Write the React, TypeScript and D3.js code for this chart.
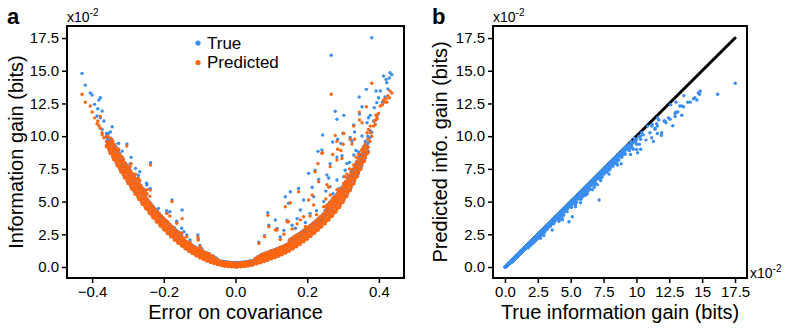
import React, { useEffect, useRef } from 'react';
import * as d3 from 'd3';

// each row: [error on covariance, true gain, predicted gain], gains in 1e-2 bits
const scattered = [
  [-0.428, 14.8, 13.2], [-0.419, 13.9, 12.6], [-0.405, 13.3, 12.3], [-0.4, 13.15, 11.85],
  [-0.393, 12.43, 11.4], [-0.384, 12.1, 11.16], [-0.381, 12.76, 10.8], [-0.377, 12.94, 11.5],
  [-0.372, 11.92, 10.26], [-0.386, 11.54, 10.95], [-0.377, 11.41, 10.6], [-0.367, 11.16, 9.88],
  [-0.344, 10.72, 9.7], [-0.372, 10.52, 10.1], [-0.349, 10.32, 9.0], [-0.358, 10.01, 9.38],
  [-0.353, 9.63, 9.2], [-0.326, 9.45, 9.0], [-0.316, 8.86, 8.4], [-0.335, 8.86, 8.5],
  [-0.34, 8.69, 8.45], [-0.303, 9.4, 9.25], [-0.291, 8.38, 7.9], [-0.279, 7.54, 7.1],
  [-0.267, 7.28, 6.6], [-0.237, 7.97, 7.8], [-0.247, 6.27, 5.6], [-0.239, 5.94, 5.4],
  [-0.177, 5.12, 5.0], [-0.149, 4.36, 3.7], [-0.191, 4.1, 3.5], [-0.171, 3.03, 2.7],
  [-0.105, 2.45, 2.3], [-0.144, 2.7, 2.2], [-0.094, 1.4, 1.3], [-0.104, 2.15, 2.06],
  [-0.327, 9.45, 8.9], [-0.294, 7.9, 7.67], [-0.271, 7.0, 6.78], [-0.238, 6.0, 5.88],
  [-0.192, 4.3, 4.1], [-0.164, 3.5, 3.34], [-0.136, 2.45, 2.32], [-0.099, 1.65, 1.55],
  [-0.062, 0.85, 0.79], [-0.248, 6.4, 5.9], [-0.215, 4.48, 4.0], [-0.183, 4.23, 3.9],
  [-0.15, 2.96, 2.6], [-0.127, 2.06, 1.9],
  [0.38, 17.52, 14.04], [0.267, 16.18, 13.2], [0.431, 14.85, 13.45], [0.429, 14.45, 12.94],
  [0.413, 14.6, 12.76], [0.42, 14.34, 12.86], [0.422, 14.09, 12.6], [0.365, 13.58, 12.25],
  [0.392, 13.45, 11.6], [0.404, 13.45, 12.3], [0.345, 12.99, 11.84], [0.399, 12.94, 11.74],
  [0.394, 12.56, 11.29], [0.353, 12.25, 11.03], [0.387, 12.18, 11.16], [0.278, 11.9, 10.06],
  [0.302, 11.59, 10.2], [0.376, 11.59, 10.77], [0.371, 11.41, 10.52], [0.385, 11.16, 10.77],
  [0.367, 11.03, 10.26], [0.283, 11.29, 9.6], [0.346, 11.7, 11.23], [0.332, 10.32, 9.76],
  [0.33, 10.85, 10.77], [0.243, 10.09, 8.73], [0.3, 10.22, 9.38], [0.285, 9.76, 9.0],
  [0.294, 9.45, 8.9], [0.271, 9.55, 8.6], [0.325, 9.63, 9.4], [0.353, 10.01, 8.99],
  [0.23, 8.84, 7.9], [0.369, 10.0, 9.76], [0.362, 9.6, 9.38], [0.343, 8.8, 8.61],
  [0.32, 9.9, 9.76], [0.376, 10.4, 10.26],
  [0.241, 8.94, 8.69], [0.222, 7.4, 7.28], [0.204, 7.16, 5.12], [0.232, 6.7, 6.52],
  [0.153, 5.75, 4.91], [0.176, 6.0, 5.75], [0.139, 5.37, 4.6], [0.09, 4.15, 3.95],
  [0.111, 3.59, 2.83], [0.148, 4.87, 3.46], [0.19, 5.12, 3.84], [0.283, 8.4, 8.18],
  [0.283, 6.65, 5.9], [0.302, 6.9, 6.4], [0.311, 7.92, 7.1], [0.33, 8.56, 7.8],
  [0.255, 7.03, 6.3], [0.264, 7.9, 7.67], [0.264, 6.14, 5.5], [0.218, 5.37, 4.74],
  [0.181, 4.36, 3.6], [0.167, 2.96, 2.4], [0.297, 8.5, 8.3], [0.065, 1.9, 1.81],
  [0.081, 2.4, 2.32], [0.093, 3.2, 3.08], [0.116, 2.95, 2.83], [0.144, 3.55, 3.46],
  [0.125, 2.3, 2.1], [0.135, 2.8, 2.5], [0.158, 3.2, 2.9], [0.172, 3.7, 3.3],
  [0.195, 3.4, 3.1], [0.208, 4.1, 3.9], [0.226, 4.3, 4.0], [0.246, 5.0, 4.6],
  [0.252, 5.8, 5.2], [0.272, 5.6, 5.3], [0.29, 6.0, 5.8], [0.306, 7.4, 6.9],
  [0.318, 8.0, 7.5], [0.336, 8.9, 8.4], [0.26, 6.8, 6.1], [0.214, 6.1, 5.5],
  [0.375, 9.9, 9.6], [0.38, 10.3, 10.0], [0.39, 11.2, 10.9], [0.395, 11.6, 11.4],
  [0.41, 12.6, 12.4], [0.417, 13.0, 12.6], [0.425, 13.6, 13.1], [0.436, 14.7, 13.3],
];

const bandLeft = [
  [-0.36, 9.3, 9.2], [-0.36, 9.95, 9.6], [-0.36, 10.2, 10.0],
  [-0.355, 9.65, 9.15], [-0.355, 9.6, 9.55], [-0.355, 10.2, 9.95],
  [-0.35, 8.8, 8.7], [-0.35, 9.45, 9.1], [-0.35, 9.7, 9.5],
  [-0.345, 9.15, 8.65], [-0.345, 9.1, 9.05], [-0.345, 9.7, 9.45],
  [-0.34, 8.31, 8.21], [-0.34, 8.96, 8.61], [-0.34, 9.21, 9.01],
  [-0.335, 8.67, 8.17], [-0.335, 8.62, 8.57], [-0.335, 9.22, 8.97],
  [-0.33, 7.83, 7.73], [-0.33, 8.48, 8.13], [-0.33, 8.73, 8.53],
  [-0.325, 8.2, 7.7], [-0.325, 8.15, 8.1], [-0.325, 8.75, 8.5],
  [-0.32, 7.37, 7.27], [-0.32, 8.02, 7.67], [-0.32, 8.27, 8.07],
  [-0.315, 7.74, 7.24], [-0.315, 7.69, 7.64], [-0.315, 8.29, 8.04],
  [-0.31, 6.92, 6.82], [-0.31, 7.57, 7.22], [-0.31, 7.82, 7.62],
  [-0.305, 7.3, 6.8], [-0.305, 7.25, 7.2], [-0.305, 7.85, 7.6],
  [-0.3, 6.49, 6.39], [-0.3, 7.14, 6.79], [-0.3, 7.39, 7.19],
  [-0.295, 6.88, 6.38], [-0.295, 6.83, 6.78], [-0.295, 7.43, 7.18],
  [-0.29, 6.07, 5.97], [-0.29, 6.72, 6.37], [-0.29, 6.97, 6.77],
  [-0.285, 6.47, 5.97], [-0.285, 6.42, 6.37], [-0.285, 7.02, 6.77],
  [-0.28, 5.67, 5.57], [-0.28, 6.32, 5.97], [-0.28, 6.57, 6.37],
  [-0.275, 6.07, 5.57], [-0.275, 6.02, 5.97], [-0.275, 6.62, 6.37],
  [-0.27, 5.28, 5.18], [-0.27, 5.93, 5.58], [-0.27, 6.18, 5.98],
  [-0.265, 5.69, 5.19], [-0.265, 5.64, 5.59], [-0.265, 6.24, 5.99],
  [-0.26, 4.9, 4.8], [-0.26, 5.55, 5.2], [-0.26, 5.8, 5.6],
  [-0.255, 5.32, 4.82], [-0.255, 5.27, 5.22], [-0.255, 5.87, 5.62],
  [-0.25, 4.54, 4.44], [-0.25, 5.19, 4.84], [-0.25, 5.44, 5.24],
  [-0.245, 4.74, 4.44], [-0.245, 4.86, 4.78],
  [-0.24, 4.14, 4.09], [-0.24, 4.69, 4.44], [-0.24, 4.91, 4.79],
  [-0.235, 4.4, 4.1], [-0.235, 4.52, 4.44],
  [-0.23, 3.81, 3.76], [-0.23, 4.36, 4.11], [-0.23, 4.58, 4.46],
  [-0.225, 4.07, 3.77], [-0.225, 4.19, 4.11],
  [-0.22, 3.49, 3.44], [-0.22, 4.04, 3.79], [-0.22, 4.26, 4.14],
  [-0.215, 3.76, 3.46], [-0.215, 3.88, 3.8],
  [-0.21, 3.18, 3.13], [-0.21, 3.73, 3.48], [-0.21, 3.95, 3.83],
  [-0.205, 3.46, 3.16], [-0.205, 3.58, 3.5],
  [-0.2, 2.89, 2.84], [-0.2, 3.44, 3.19], [-0.2, 3.66, 3.54],
  [-0.195, 3.18, 2.88], [-0.195, 3.3, 3.22],
  [-0.19, 2.61, 2.56], [-0.19, 3.16, 2.91], [-0.19, 3.38, 3.26],
  [-0.185, 2.91, 2.61], [-0.185, 3.03, 2.95],
  [-0.18, 2.35, 2.3], [-0.18, 2.9, 2.65], [-0.18, 3.12, 3.0],
  [-0.175, 2.65, 2.35], [-0.175, 2.77, 2.69],
  [-0.17, 2.1, 2.05], [-0.17, 2.65, 2.4], [-0.17, 2.87, 2.75],
  [-0.165, 2.41, 2.11], [-0.165, 2.53, 2.45],
  [-0.16, 1.87, 1.82], [-0.16, 2.42, 2.17], [-0.16, 2.64, 2.52],
  [-0.155, 2.19, 1.89], [-0.155, 2.31, 2.23],
  [-0.15, 1.65, 1.6], [-0.15, 2.2, 1.95], [-0.15, 2.42, 2.3],
  [-0.145, 1.79, 1.64], [-0.145, 1.99, 1.94],
  [-0.14, 1.42, 1.39], [-0.14, 1.81, 1.69],
  [-0.135, 1.59, 1.44], [-0.135, 1.79, 1.74],
  [-0.13, 1.23, 1.2], [-0.13, 1.62, 1.5],
  [-0.125, 1.41, 1.26], [-0.125, 1.61, 1.56],
  [-0.12, 1.05, 1.02], [-0.12, 1.44, 1.32],
  [-0.115, 1.24, 1.09], [-0.115, 1.44, 1.39],
  [-0.11, 0.89, 0.86], [-0.11, 1.28, 1.16],
  [-0.105, 1.08, 0.93], [-0.105, 1.28, 1.23],
  [-0.1, 0.74, 0.71], [-0.1, 1.13, 1.01],
  [-0.095, 0.94, 0.79], [-0.095, 1.14, 1.09],
  [-0.09, 0.61, 0.58], [-0.09, 1.0, 0.88],
  [-0.085, 0.81, 0.66], [-0.085, 1.01, 0.96],
  [-0.08, 0.48, 0.45], [-0.08, 0.87, 0.75],
  [-0.075, 0.7, 0.55], [-0.075, 0.9, 0.85],
  [-0.07, 0.38, 0.35], [-0.07, 0.77, 0.65],
  [-0.065, 0.6, 0.45], [-0.065, 0.8, 0.75],
  [-0.06, 0.29, 0.26], [-0.06, 0.68, 0.56],
  [-0.055, 0.51, 0.36], [-0.055, 0.71, 0.66],
  [-0.05, 0.21, 0.18], [-0.05, 0.6, 0.48],
  [-0.045, 0.28, 0.24], [-0.045, 0.47, 0.44],
  [-0.04, 0.13, 0.11], [-0.04, 0.37, 0.31],
  [-0.035, 0.23, 0.19], [-0.035, 0.42, 0.39],
  [-0.03, 0.08, 0.06], [-0.03, 0.32, 0.26],
  [-0.025, 0.18, 0.14], [-0.025, 0.37, 0.34],
  [-0.02, 0.05, 0.03], [-0.02, 0.29, 0.23],
  [-0.015, 0.16, 0.12], [-0.015, 0.35, 0.32],
  [-0.01, 0.03, 0.01], [-0.01, 0.27, 0.21],
  [-0.005, 0.14, 0.1], [-0.005, 0.33, 0.3],
  [0, 0.02, 0.0], [0, 0.22, 0.18],
];

const bandLeftFill = [
  [-0.3575, 9.22, 9.17], [-0.3575, 9.82, 9.57],
  [-0.3525, 8.97, 8.92], [-0.3525, 9.57, 9.32],
  [-0.3475, 8.72, 8.67], [-0.3475, 9.32, 9.07], [-0.3475, 9.57, 9.47], [-0.3475, 9.84, 9.82],
  [-0.3425, 8.48, 8.43], [-0.3425, 9.08, 8.83], [-0.3425, 9.33, 9.23], [-0.3425, 9.6, 9.58],
  [-0.3375, 8.24, 8.19], [-0.3375, 8.84, 8.59], [-0.3375, 9.09, 8.99], [-0.3375, 9.36, 9.34],
  [-0.3325, 8.0, 7.95], [-0.3325, 8.6, 8.35], [-0.3325, 8.85, 8.75], [-0.3325, 9.12, 9.1],
  [-0.3275, 7.77, 7.72], [-0.3275, 8.37, 8.12], [-0.3275, 8.62, 8.52], [-0.3275, 8.89, 8.87],
  [-0.3225, 7.53, 7.48], [-0.3225, 8.13, 7.88], [-0.3225, 8.38, 8.28], [-0.3225, 8.65, 8.63],
  [-0.3175, 7.31, 7.26], [-0.3175, 7.91, 7.66], [-0.3175, 8.16, 8.06], [-0.3175, 8.43, 8.41],
  [-0.3125, 7.08, 7.03], [-0.3125, 7.68, 7.43], [-0.3125, 7.93, 7.83], [-0.3125, 8.2, 8.18],
  [-0.3075, 6.86, 6.81], [-0.3075, 7.46, 7.21], [-0.3075, 7.71, 7.61], [-0.3075, 7.98, 7.96],
  [-0.3025, 6.65, 6.6], [-0.3025, 7.25, 7.0], [-0.3025, 7.5, 7.4], [-0.3025, 7.77, 7.75],
  [-0.2975, 6.43, 6.38], [-0.2975, 7.03, 6.78], [-0.2975, 7.28, 7.18], [-0.2975, 7.55, 7.53],
  [-0.2925, 6.22, 6.17], [-0.2925, 6.82, 6.57], [-0.2925, 7.07, 6.97], [-0.2925, 7.34, 7.32],
  [-0.2875, 6.02, 5.97], [-0.2875, 6.62, 6.37], [-0.2875, 6.87, 6.77], [-0.2875, 7.14, 7.12],
  [-0.2825, 5.82, 5.77], [-0.2825, 6.42, 6.17], [-0.2825, 6.67, 6.57], [-0.2825, 6.94, 6.92],
  [-0.2775, 5.62, 5.57], [-0.2775, 6.22, 5.97], [-0.2775, 6.47, 6.37], [-0.2775, 6.74, 6.72],
  [-0.2725, 5.42, 5.37], [-0.2725, 6.02, 5.77], [-0.2725, 6.27, 6.17], [-0.2725, 6.54, 6.52],
  [-0.2675, 5.23, 5.18], [-0.2675, 5.83, 5.58], [-0.2675, 6.08, 5.98], [-0.2675, 6.35, 6.33],
  [-0.2625, 5.04, 4.99], [-0.2625, 5.64, 5.39], [-0.2625, 5.89, 5.79], [-0.2625, 6.16, 6.14],
  [-0.2575, 4.86, 4.81], [-0.2575, 5.46, 5.21], [-0.2575, 5.71, 5.61], [-0.2575, 5.98, 5.96],
  [-0.2525, 4.68, 4.63], [-0.2525, 5.28, 5.03], [-0.2525, 5.53, 5.43], [-0.2525, 5.8, 5.78],
  [-0.2475, 4.5, 4.45], [-0.2475, 5.05, 4.8], [-0.2475, 5.23, 5.2],
  [-0.2425, 4.33, 4.28], [-0.2425, 4.88, 4.63], [-0.2425, 5.06, 5.03],
  [-0.2375, 4.15, 4.1], [-0.2375, 4.7, 4.45], [-0.2375, 4.88, 4.85],
  [-0.2325, 3.99, 3.94], [-0.2325, 4.54, 4.29], [-0.2325, 4.72, 4.69],
  [-0.2275, 3.82, 3.77], [-0.2275, 4.37, 4.12], [-0.2275, 4.55, 4.52],
  [-0.2225, 3.66, 3.61], [-0.2225, 4.21, 3.96], [-0.2225, 4.39, 4.36],
  [-0.2175, 3.51, 3.46], [-0.2175, 4.06, 3.81], [-0.2175, 4.24, 4.21],
  [-0.2125, 3.36, 3.31], [-0.2125, 3.91, 3.66], [-0.2125, 4.09, 4.06],
  [-0.2075, 3.21, 3.16], [-0.2075, 3.76, 3.51], [-0.2075, 3.94, 3.91],
  [-0.2025, 3.06, 3.01], [-0.2025, 3.61, 3.36], [-0.2025, 3.79, 3.76],
  [-0.1975, 2.92, 2.87], [-0.1975, 3.47, 3.22], [-0.1975, 3.65, 3.62],
  [-0.1925, 2.78, 2.73], [-0.1925, 3.33, 3.08], [-0.1925, 3.51, 3.48],
  [-0.1875, 2.65, 2.6], [-0.1875, 3.2, 2.95], [-0.1875, 3.38, 3.35],
  [-0.1825, 2.51, 2.46], [-0.1825, 3.06, 2.81], [-0.1825, 3.24, 3.21],
  [-0.1775, 2.39, 2.34], [-0.1775, 2.94, 2.69], [-0.1775, 3.12, 3.09],
  [-0.1725, 2.26, 2.21], [-0.1725, 2.81, 2.56], [-0.1725, 2.99, 2.96],
  [-0.1675, 2.14, 2.09], [-0.1675, 2.69, 2.44], [-0.1675, 2.87, 2.84],
  [-0.1625, 2.02, 1.97], [-0.1625, 2.57, 2.32], [-0.1625, 2.75, 2.72],
  [-0.1575, 1.91, 1.86], [-0.1575, 2.46, 2.21], [-0.1575, 2.64, 2.61],
  [-0.1525, 1.8, 1.75], [-0.1525, 2.35, 2.1], [-0.1525, 2.53, 2.5],
  [-0.1475, 1.64, 1.62], [-0.1475, 2.04, 1.92], [-0.1475, 2.16, 2.14],
  [-0.1425, 1.54, 1.52], [-0.1425, 1.94, 1.82], [-0.1425, 2.06, 2.04],
  [-0.1375, 1.44, 1.42], [-0.1375, 1.84, 1.72], [-0.1375, 1.96, 1.94],
  [-0.1325, 1.35, 1.33], [-0.1325, 1.75, 1.63], [-0.1325, 1.87, 1.85],
  [-0.1275, 1.25, 1.23], [-0.1275, 1.65, 1.53], [-0.1275, 1.77, 1.75],
  [-0.1225, 1.17, 1.15], [-0.1225, 1.57, 1.45], [-0.1225, 1.69, 1.67],
  [-0.1175, 1.08, 1.06], [-0.1175, 1.48, 1.36], [-0.1175, 1.6, 1.58],
  [-0.1125, 1.0, 0.98], [-0.1125, 1.4, 1.28], [-0.1125, 1.52, 1.5],
  [-0.1075, 0.92, 0.9], [-0.1075, 1.32, 1.2], [-0.1075, 1.44, 1.42],
  [-0.1025, 0.85, 0.83], [-0.1025, 1.25, 1.13], [-0.1025, 1.37, 1.35],
  [-0.0975, 0.77, 0.75], [-0.0975, 1.17, 1.05], [-0.0975, 1.29, 1.27],
  [-0.0925, 0.71, 0.69], [-0.0925, 1.11, 0.99], [-0.0925, 1.23, 1.21],
  [-0.0875, 0.64, 0.62], [-0.0875, 1.04, 0.92], [-0.0875, 1.16, 1.14],
  [-0.0825, 0.58, 0.56], [-0.0825, 0.98, 0.86], [-0.0825, 1.1, 1.08],
  [-0.0775, 0.53, 0.51], [-0.0775, 0.93, 0.81], [-0.0775, 1.05, 1.03],
  [-0.0725, 0.47, 0.45], [-0.0725, 0.87, 0.75], [-0.0725, 0.99, 0.97],
  [-0.0675, 0.42, 0.4], [-0.0675, 0.78, 0.7], [-0.0675, 0.84, 0.82],
  [-0.0625, 0.38, 0.36], [-0.0625, 0.74, 0.66], [-0.0625, 0.8, 0.78],
  [-0.0575, 0.33, 0.31], [-0.0575, 0.58, 0.55],
  [-0.0525, 0.3, 0.28], [-0.0525, 0.55, 0.52],
  [-0.0475, 0.23, 0.21], [-0.0475, 0.5, 0.46],
  [-0.0425, 0.2, 0.18], [-0.0425, 0.47, 0.43],
  [-0.0375, 0.17, 0.15], [-0.0375, 0.44, 0.4],
  [-0.0325, 0.15, 0.13], [-0.0325, 0.42, 0.38],
  [-0.0275, 0.12, 0.1], [-0.0275, 0.39, 0.35],
  [-0.0225, 0.11, 0.09], [-0.0225, 0.38, 0.34],
  [-0.0175, 0.09, 0.07], [-0.0175, 0.36, 0.32],
  [-0.0125, 0.08, 0.06], [-0.0125, 0.35, 0.31],
  [-0.0075, 0.07, 0.05], [-0.0075, 0.34, 0.3],
  [-0.0025, 0.07, 0.05], [-0.0025, 0.34, 0.3],
];

const bandRight = [
  [0.005, 0.02, 0.0], [0.005, 0.26, 0.2],
  [0.01, 0.15, 0.11], [0.01, 0.34, 0.31],
  [0.015, 0.04, 0.02], [0.015, 0.28, 0.22],
  [0.02, 0.17, 0.13], [0.02, 0.36, 0.33],
  [0.025, 0.06, 0.04], [0.025, 0.3, 0.24],
  [0.03, 0.2, 0.16], [0.03, 0.39, 0.36],
  [0.035, 0.1, 0.08], [0.035, 0.34, 0.28],
  [0.04, 0.25, 0.21], [0.04, 0.44, 0.41],
  [0.045, 0.16, 0.14], [0.045, 0.4, 0.34],
  [0.05, 0.2, 0.17], [0.05, 0.5, 0.47],
  [0.055, 0.5, 0.35], [0.055, 0.67, 0.65],
  [0.06, 0.27, 0.24], [0.06, 0.6, 0.54],
  [0.065, 0.58, 0.43], [0.065, 0.75, 0.73],
  [0.07, 0.35, 0.32], [0.07, 0.7, 0.62],
  [0.075, 0.66, 0.51], [0.075, 0.83, 0.81],
  [0.08, 0.44, 0.41], [0.08, 0.8, 0.71],
  [0.085, 0.76, 0.61], [0.085, 0.93, 0.91],
  [0.09, 0.54, 0.51], [0.09, 0.9, 0.81],
  [0.095, 0.87, 0.72], [0.095, 1.04, 1.02],
  [0.1, 0.65, 0.62], [0.1, 1.0, 0.92],
  [0.105, 0.96, 0.81], [0.105, 1.13, 1.11],
  [0.11, 0.74, 0.71], [0.11, 1.1, 1.01],
  [0.115, 1.07, 0.92], [0.115, 1.24, 1.22],
  [0.12, 0.85, 0.82], [0.12, 1.2, 1.12],
  [0.125, 1.18, 1.03], [0.125, 1.35, 1.33],
  [0.13, 0.97, 0.94], [0.13, 1.32, 1.24],
  [0.135, 1.3, 1.15], [0.135, 1.47, 1.45],
  [0.14, 1.1, 1.07], [0.14, 1.45, 1.37],
  [0.145, 1.44, 1.29], [0.145, 1.61, 1.59],
  [0.15, 1.26, 1.21], [0.15, 1.81, 1.56], [0.15, 2.03, 1.91],
  [0.155, 1.77, 1.47], [0.155, 1.89, 1.81],
  [0.16, 1.42, 1.37], [0.16, 1.97, 1.72], [0.16, 2.19, 2.07],
  [0.165, 1.93, 1.63], [0.165, 2.05, 1.97],
  [0.17, 1.59, 1.54], [0.17, 2.14, 1.89], [0.17, 2.36, 2.24],
  [0.175, 2.11, 1.81], [0.175, 2.23, 2.15],
  [0.18, 1.77, 1.72], [0.18, 2.32, 2.07], [0.18, 2.54, 2.42],
  [0.185, 2.3, 2.0], [0.185, 2.42, 2.34],
  [0.19, 1.97, 1.92], [0.19, 2.52, 2.27], [0.19, 2.74, 2.62],
  [0.195, 2.5, 2.2], [0.195, 2.62, 2.54],
  [0.2, 2.17, 2.12], [0.2, 2.72, 2.47], [0.2, 2.94, 2.82],
  [0.205, 2.71, 2.41], [0.205, 2.83, 2.75],
  [0.21, 2.39, 2.34], [0.21, 2.94, 2.69], [0.21, 3.16, 3.04],
  [0.215, 2.93, 2.63], [0.215, 3.05, 2.97],
  [0.22, 2.61, 2.56], [0.22, 3.16, 2.91], [0.22, 3.38, 3.26],
  [0.225, 3.16, 2.86], [0.225, 3.28, 3.2],
  [0.23, 2.85, 2.8], [0.23, 3.4, 3.15], [0.23, 3.62, 3.5],
  [0.235, 3.41, 3.11], [0.235, 3.53, 3.45],
  [0.24, 3.1, 3.05], [0.24, 3.65, 3.4], [0.24, 3.87, 3.75],
  [0.245, 3.66, 3.36], [0.245, 3.78, 3.7],
  [0.25, 3.41, 3.31], [0.25, 4.06, 3.71], [0.25, 4.31, 4.11],
  [0.255, 4.15, 3.65], [0.255, 4.1, 4.05], [0.255, 4.7, 4.45],
  [0.26, 3.69, 3.59], [0.26, 4.34, 3.99], [0.26, 4.59, 4.39],
  [0.265, 4.43, 3.93], [0.265, 4.38, 4.33], [0.265, 4.98, 4.73],
  [0.27, 3.98, 3.88], [0.27, 4.63, 4.28], [0.27, 4.88, 4.68],
  [0.275, 4.73, 4.23], [0.275, 4.68, 4.63], [0.275, 5.28, 5.03],
  [0.28, 4.3, 4.2], [0.28, 4.95, 4.6], [0.28, 5.2, 5.0],
  [0.285, 5.07, 4.57], [0.285, 5.02, 4.97], [0.285, 5.62, 5.37],
  [0.29, 4.65, 4.55], [0.29, 5.3, 4.95], [0.29, 5.55, 5.35],
  [0.295, 5.44, 4.94], [0.295, 5.39, 5.34], [0.295, 5.99, 5.74],
  [0.3, 5.05, 4.95], [0.3, 5.7, 5.35], [0.3, 5.95, 5.75],
  [0.305, 5.86, 5.36], [0.305, 5.81, 5.76], [0.305, 6.41, 6.16],
  [0.31, 5.48, 5.38], [0.31, 6.13, 5.78], [0.31, 6.38, 6.18],
  [0.315, 6.31, 5.81], [0.315, 6.26, 6.21], [0.315, 6.86, 6.61],
  [0.32, 5.95, 5.85], [0.32, 6.6, 6.25], [0.32, 6.85, 6.65],
  [0.325, 6.8, 6.3], [0.325, 6.75, 6.7], [0.325, 7.35, 7.1],
  [0.33, 6.46, 6.36], [0.33, 7.11, 6.76], [0.33, 7.36, 7.16],
  [0.335, 7.33, 6.83], [0.335, 7.28, 7.23], [0.335, 7.88, 7.63],
  [0.34, 7.01, 6.91], [0.34, 7.66, 7.31], [0.34, 7.91, 7.71],
  [0.345, 7.9, 7.4], [0.345, 7.85, 7.8], [0.345, 8.45, 8.2],
  [0.35, 7.6, 7.5], [0.35, 8.25, 7.9], [0.35, 8.5, 8.3],
  [0.355, 8.5, 8.0], [0.355, 8.45, 8.4], [0.355, 9.05, 8.8],
  [0.36, 8.2, 8.1], [0.36, 8.85, 8.5], [0.36, 9.1, 8.9],
  [0.365, 9.12, 8.62], [0.365, 9.07, 9.02],
  [0.37, 8.85, 8.75], [0.37, 9.5, 9.15],
];

const bandRightFill = [
  [0.0025, 0.07, 0.05], [0.0025, 0.34, 0.3],
  [0.0075, 0.07, 0.05], [0.0075, 0.34, 0.3],
  [0.0125, 0.08, 0.06], [0.0125, 0.35, 0.31],
  [0.0175, 0.09, 0.07], [0.0175, 0.36, 0.32],
  [0.0225, 0.1, 0.08], [0.0225, 0.37, 0.33],
  [0.0275, 0.12, 0.1], [0.0275, 0.39, 0.35],
  [0.0325, 0.14, 0.12], [0.0325, 0.41, 0.37],
  [0.0375, 0.17, 0.15], [0.0375, 0.44, 0.4],
  [0.0425, 0.19, 0.17], [0.0425, 0.46, 0.42],
  [0.0475, 0.22, 0.2], [0.0475, 0.49, 0.45],
  [0.0525, 0.28, 0.26], [0.0525, 0.53, 0.5],
  [0.0575, 0.32, 0.3], [0.0575, 0.59, 0.56],
  [0.0625, 0.36, 0.34], [0.0625, 0.72, 0.64], [0.0625, 0.78, 0.76],
  [0.0675, 0.4, 0.38], [0.0675, 0.76, 0.68], [0.0675, 0.84, 0.82],
  [0.0725, 0.44, 0.42], [0.0725, 0.84, 0.72], [0.0725, 0.96, 0.94],
  [0.0775, 0.48, 0.46], [0.0775, 0.88, 0.76], [0.0775, 1.0, 0.98],
  [0.0825, 0.53, 0.51], [0.0825, 0.93, 0.81], [0.0825, 1.05, 1.03],
  [0.0875, 0.58, 0.56], [0.0875, 0.98, 0.86], [0.0875, 1.1, 1.08],
  [0.0925, 0.64, 0.62], [0.0925, 1.04, 0.92], [0.0925, 1.16, 1.14],
  [0.0975, 0.7, 0.68], [0.0975, 1.1, 0.98], [0.0975, 1.22, 1.2],
  [0.1025, 0.74, 0.72], [0.1025, 1.14, 1.02], [0.1025, 1.26, 1.24],
  [0.1075, 0.78, 0.76], [0.1075, 1.18, 1.06], [0.1075, 1.3, 1.28],
  [0.1125, 0.84, 0.82], [0.1125, 1.24, 1.12], [0.1125, 1.36, 1.34],
  [0.1175, 0.9, 0.88], [0.1175, 1.3, 1.18], [0.1175, 1.42, 1.4],
  [0.1225, 0.95, 0.93], [0.1225, 1.35, 1.23], [0.1225, 1.47, 1.45],
  [0.1275, 1.01, 0.99], [0.1275, 1.41, 1.29], [0.1275, 1.53, 1.51],
  [0.1325, 1.07, 1.05], [0.1325, 1.47, 1.35], [0.1325, 1.59, 1.57],
  [0.1375, 1.13, 1.11], [0.1375, 1.53, 1.41], [0.1375, 1.65, 1.63],
  [0.1425, 1.2, 1.18], [0.1425, 1.6, 1.48], [0.1425, 1.72, 1.7],
  [0.1475, 1.27, 1.25], [0.1475, 1.67, 1.55], [0.1475, 1.79, 1.77],
  [0.1525, 1.4, 1.35], [0.1525, 1.95, 1.7], [0.1525, 2.13, 2.1],
  [0.1575, 1.48, 1.43], [0.1575, 2.03, 1.78], [0.1575, 2.21, 2.18],
  [0.1625, 1.56, 1.51], [0.1625, 2.11, 1.86], [0.1625, 2.29, 2.26],
  [0.1675, 1.64, 1.59], [0.1675, 2.19, 1.94], [0.1675, 2.37, 2.34],
  [0.1725, 1.73, 1.68], [0.1725, 2.28, 2.03], [0.1725, 2.46, 2.43],
  [0.1775, 1.82, 1.77], [0.1775, 2.37, 2.12], [0.1775, 2.55, 2.52],
  [0.1825, 1.92, 1.87], [0.1825, 2.47, 2.22], [0.1825, 2.65, 2.62],
  [0.1875, 2.02, 1.97], [0.1875, 2.57, 2.32], [0.1875, 2.75, 2.72],
  [0.1925, 2.12, 2.07], [0.1925, 2.67, 2.42], [0.1925, 2.85, 2.82],
  [0.1975, 2.22, 2.17], [0.1975, 2.77, 2.52], [0.1975, 2.95, 2.92],
  [0.2025, 2.32, 2.27], [0.2025, 2.87, 2.62], [0.2025, 3.05, 3.02],
  [0.2075, 2.43, 2.38], [0.2075, 2.98, 2.73], [0.2075, 3.16, 3.13],
  [0.2125, 2.54, 2.49], [0.2125, 3.09, 2.84], [0.2125, 3.27, 3.24],
  [0.2175, 2.65, 2.6], [0.2175, 3.2, 2.95], [0.2175, 3.38, 3.35],
  [0.2225, 2.77, 2.72], [0.2225, 3.32, 3.07], [0.2225, 3.5, 3.47],
  [0.2275, 2.89, 2.84], [0.2275, 3.44, 3.19], [0.2275, 3.62, 3.59],
  [0.2325, 3.01, 2.96], [0.2325, 3.56, 3.31], [0.2325, 3.74, 3.71],
  [0.2375, 3.14, 3.09], [0.2375, 3.69, 3.44], [0.2375, 3.87, 3.84],
  [0.2425, 3.26, 3.21], [0.2425, 3.81, 3.56], [0.2425, 3.99, 3.96],
  [0.2475, 3.39, 3.34], [0.2475, 3.94, 3.69], [0.2475, 4.12, 4.09],
  [0.2525, 3.53, 3.48], [0.2525, 4.13, 3.88], [0.2525, 4.38, 4.28], [0.2525, 4.65, 4.63],
  [0.2575, 3.67, 3.62], [0.2575, 4.27, 4.02], [0.2575, 4.52, 4.42], [0.2575, 4.79, 4.77],
  [0.2625, 3.81, 3.76], [0.2625, 4.41, 4.16], [0.2625, 4.66, 4.56], [0.2625, 4.93, 4.91],
  [0.2675, 3.95, 3.9], [0.2675, 4.55, 4.3], [0.2675, 4.8, 4.7], [0.2675, 5.07, 5.05],
  [0.2725, 4.1, 4.05], [0.2725, 4.7, 4.45], [0.2725, 4.95, 4.85], [0.2725, 5.22, 5.2],
  [0.2775, 4.26, 4.21], [0.2775, 4.86, 4.61], [0.2775, 5.11, 5.01], [0.2775, 5.38, 5.36],
  [0.2825, 4.43, 4.38], [0.2825, 5.03, 4.78], [0.2825, 5.28, 5.18], [0.2825, 5.55, 5.53],
  [0.2875, 4.61, 4.56], [0.2875, 5.21, 4.96], [0.2875, 5.46, 5.36], [0.2875, 5.73, 5.71],
  [0.2925, 4.79, 4.74], [0.2925, 5.39, 5.14], [0.2925, 5.64, 5.54], [0.2925, 5.91, 5.89],
  [0.2975, 4.99, 4.94], [0.2975, 5.59, 5.34], [0.2975, 5.84, 5.74], [0.2975, 6.11, 6.09],
  [0.3025, 5.2, 5.15], [0.3025, 5.8, 5.55], [0.3025, 6.05, 5.95], [0.3025, 6.32, 6.3],
  [0.3075, 5.42, 5.37], [0.3075, 6.02, 5.77], [0.3075, 6.27, 6.17], [0.3075, 6.54, 6.52],
  [0.3125, 5.64, 5.59], [0.3125, 6.24, 5.99], [0.3125, 6.49, 6.39], [0.3125, 6.76, 6.74],
  [0.3175, 5.88, 5.83], [0.3175, 6.48, 6.23], [0.3175, 6.73, 6.63], [0.3175, 7.0, 6.98],
  [0.3225, 6.12, 6.07], [0.3225, 6.72, 6.47], [0.3225, 6.97, 6.87], [0.3225, 7.24, 7.22],
  [0.3275, 6.38, 6.33], [0.3275, 6.98, 6.73], [0.3275, 7.23, 7.13], [0.3275, 7.5, 7.48],
  [0.3325, 6.64, 6.59], [0.3325, 7.24, 6.99], [0.3325, 7.49, 7.39], [0.3325, 7.76, 7.74],
  [0.3375, 6.92, 6.87], [0.3375, 7.52, 7.27], [0.3375, 7.77, 7.67], [0.3375, 8.04, 8.02],
  [0.3425, 7.2, 7.15], [0.3425, 7.8, 7.55], [0.3425, 8.05, 7.95], [0.3425, 8.32, 8.3],
  [0.3475, 7.5, 7.45], [0.3475, 8.1, 7.85], [0.3475, 8.35, 8.25], [0.3475, 8.62, 8.6],
  [0.3525, 7.8, 7.75], [0.3525, 8.4, 8.15], [0.3525, 8.65, 8.55], [0.3525, 8.92, 8.9],
  [0.3575, 8.1, 8.05], [0.3575, 8.7, 8.45], [0.3575, 8.95, 8.85], [0.3575, 9.22, 9.2],
  [0.3625, 8.41, 8.36], [0.3625, 9.01, 8.76], [0.3625, 9.26, 9.16],
  [0.3675, 8.73, 8.68], [0.3675, 9.33, 9.08],
];

const covTicks = [-0.4, -0.2, 0, 0.2, 0.4];
const gainTicks = [0, 2.5, 5, 7.5, 10, 12.5, 15, 17.5];
const gainTickLabels = ['0.0', '2.5', '5.0', '7.5', '10.0', '12.5', '15.0', '17.5'];
const trueGainTickLabels = ['0.0', '2.5', '5.0', '7.5', '10', '12.5', '15', '17.5'];
const identityLine = [0, 17.5];
const seriesNames = ['True', 'Predicted'];
const seriesColors = ['#3a8ef0', '#ff6611'];

const FONT = '"Liberation Sans", Arial, Helvetica, sans-serif';

const App = () => {
  const svgRef = useRef<SVGSVGElement>(null);

  useEffect(() => {
    const svg = d3.select(svgRef.current);
    svg.selectAll('*').remove();

    const points = [...bandLeft, ...bandLeftFill, ...bandRight, ...bandRightFill, ...scattered];
    const top = 26;
    const bottom = 278;
    const r = 1.7;

    const xA = d3.scaleLinear().domain([-0.47, 0.47]).range([67, 404]);
    const xB = d3.scaleLinear().domain([-0.91, 18.41]).range([493, 747]);
    const y = d3.scaleLinear().domain([-0.84, 18.42]).range([bottom, top]);

    const styleAxis = (g) => {
      g.select('.domain').remove();
      g.selectAll('line').attr('stroke', '#000').attr('stroke-width', 1.5);
      g.selectAll('text').attr('fill', '#000').attr('font-size', 15).attr('font-family', FONT);
    };

    const sci = (x, yy) => {
      const t = svg.append('text')
        .attr('x', x).attr('y', yy)
        .attr('font-family', FONT).attr('font-size', 14)
        .text('x10');
      t.append('tspan').attr('dy', -6).attr('font-size', 10).text('-2');
    };

    const panel = (x, ticks, letter, letterX, xLabel, yLabel, yLabelX, xTickFmt) => {
      svg.append('g').attr('transform', `translate(0,${bottom})`)
        .call(d3.axisBottom(x).tickValues(ticks).tickFormat(xTickFmt).tickSize(5).tickPadding(3))
        .call(styleAxis);

      svg.append('g').attr('transform', `translate(${x.range()[0]},0)`)
        .call(d3.axisLeft(y).tickValues(gainTicks)
          .tickFormat((d, i) => gainTickLabels[i]).tickSize(5).tickPadding(3))
        .call(styleAxis);

      svg.append('text')
        .attr('x', (x.range()[0] + x.range()[1]) / 2)
        .attr('y', 319)
        .attr('text-anchor', 'middle')
        .attr('font-family', FONT).attr('font-size', 20)
        .text(xLabel);

      svg.append('text')
        .attr('transform', `translate(${yLabelX},152) rotate(-90)`)
        .attr('text-anchor', 'middle')
        .attr('font-family', FONT).attr('font-size', 20)
        .text(yLabel);

      svg.append('text')
        .attr('x', letterX).attr('y', 24)
        .attr('font-family', FONT).attr('font-size', 22).attr('font-weight', 'bold')
        .text(letter);

      sci(x.range()[0], 22);
    };

    // panel a
    panel(xA, covTicks, 'a', 7, 'Error on covariance', 'Information gain (bits)', 23, d3.format('.1f'));

    svg.append('g').selectAll('circle')
      .data(points)
      .enter()
      .append('circle')
      .attr('cx', d => xA(d[0]))
      .attr('cy', d => y(d[1]))
      .attr('r', r)
      .attr('fill', seriesColors[0]);

    svg.append('g').selectAll('circle')
      .data(points)
      .enter()
      .append('circle')
      .attr('cx', d => xA(d[0]))
      .attr('cy', d => y(d[2]))
      .attr('r', r)
      .attr('fill', seriesColors[1]);

    const legend = svg.append('g');
    seriesNames.forEach((name, i) => {
      legend.append('circle')
        .attr('cx', 198).attr('cy', 43 + i * 19.5).attr('r', 2.6)
        .attr('fill', seriesColors[i]);
      legend.append('text')
        .attr('x', 207).attr('y', 48.5 + i * 19)
        .attr('font-family', FONT).attr('font-size', 17)
        .text(name);
    });

    svg.append('rect')
      .attr('x', 67).attr('y', top).attr('width', 404 - 67).attr('height', bottom - top)
      .attr('fill', 'none').attr('stroke', '#000').attr('stroke-width', 2);

    // panel b
    panel(xB, gainTicks, 'b', 432, 'True information gain (bits)', 'Predicted info. gain (bits)', 447,
      (d, i) => trueGainTickLabels[i]);

    svg.append('line')
      .attr('x1', xB(identityLine[0])).attr('y1', y(identityLine[0]))
      .attr('x2', xB(identityLine[1])).attr('y2', y(identityLine[1]))
      .attr('stroke', '#000').attr('stroke-width', 3).attr('stroke-linecap', 'round');

    svg.append('g').selectAll('circle')
      .data(points)
      .enter()
      .append('circle')
      .attr('cx', d => xB(d[1]))
      .attr('cy', d => y(d[2]))
      .attr('r', r)
      .attr('fill', seriesColors[0]);

    svg.append('rect')
      .attr('x', 493).attr('y', top).attr('width', 747 - 493).attr('height', bottom - top)
      .attr('fill', 'none').attr('stroke', '#000').attr('stroke-width', 2);

    sci(750, 278);
  }, []);

  return (
    <svg ref={svgRef} width={794} height={330}
      style={{ position: 'absolute', left: 0, top: 0, background: '#fff' }} />
  );
};

export default App;
